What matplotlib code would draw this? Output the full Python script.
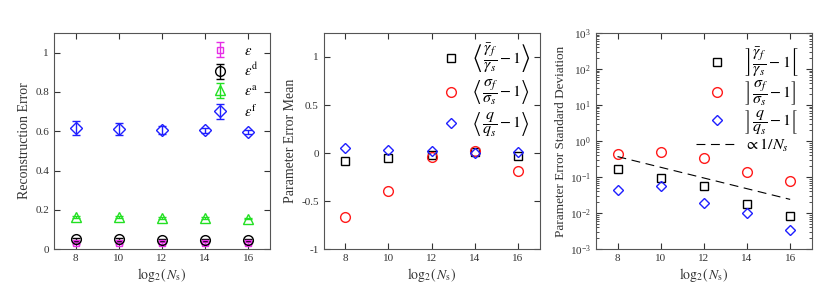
import numpy as np
import matplotlib
matplotlib.use('Agg')
import matplotlib.pyplot as plt
from matplotlib.ticker import FuncFormatter, LogLocator, NullFormatter

plt.rcParams['font.family'] = ['Liberation Serif', 'DejaVu Serif']
plt.rcParams['mathtext.fontset'] = 'stix'

# log2(Ns)
x = [8, 10, 12, 14, 16]

# panel 1: reconstruction error
eps = [0.030, 0.030, 0.030, 0.030, 0.030]
eps_err = [0.005, 0.005, 0.005, 0.005, 0.005]
eps_d = [0.049, 0.049, 0.048, 0.047, 0.047]
eps_d_err = [0.006, 0.006, 0.005, 0.005, 0.005]
eps_a = [0.163, 0.162, 0.160, 0.158, 0.155]
eps_a_err = [0.006, 0.005, 0.005, 0.004, 0.004]
eps_f = [0.617, 0.611, 0.607, 0.605, 0.595]
eps_f_err = [0.035, 0.030, 0.020, 0.012, 0.010]

# panel 2: parameter error mean
mean_gamma = [-0.087, -0.052, -0.020, 0.014, -0.030]
mean_sigma = [-0.667, -0.400, -0.042, 0.020, -0.190]
mean_q = [0.049, 0.028, 0.020, 0.000, 0.014]

# panel 3: parameter error std
std_gamma = [0.17, 0.094, 0.058, 0.018, 0.0085]
std_sigma = [0.44, 0.49, 0.34, 0.134, 0.079]
std_q = [0.044, 0.055, 0.0195, 0.0103, 0.0034]
ref_x = [8, 16]
ref_y = [0.37, 0.024]

xlabel = r'$\mathrm{log}_2(\,N_{\mathrm{s}})$'
tc = '#333333'

fig = plt.figure(figsize=(8.3, 2.89), dpi=100)
ax1 = fig.add_axes([0.065, 0.138, 0.260, 0.748])
ax2 = fig.add_axes([0.390, 0.138, 0.260, 0.748])
ax3 = fig.add_axes([0.718, 0.138, 0.260, 0.748])


def style(ax):
    ax.set_xlim(7, 17)
    ax.set_xticks([8, 10, 12, 14, 16])
    ax.tick_params(which='both', direction='in', top=True, right=True,
                   labelsize=8, colors=tc)
    ax.tick_params(which='major', length=4)
    ax.tick_params(which='minor', length=2)
    for s in ax.spines.values():
        s.set_color('#555555')
        s.set_linewidth(0.8)
    ax.set_xlabel(xlabel, fontsize=10, color=tc, labelpad=2)


fmt = FuncFormatter(lambda v, p: f'{v:g}')

# panel 1
style(ax1)
mag = '#e62ee6'
grn = '#22e022'
kw = dict(ls='none', capsize=3, mfc='none', mew=1, elinewidth=1)
h1 = ax1.errorbar(x, eps, yerr=eps_err, marker='s', ms=5, color=mag, **kw)
h2 = ax1.errorbar(x, eps_d, yerr=eps_d_err, marker='o', ms=7, color='k', **kw)
h3 = ax1.errorbar(x, eps_a, yerr=eps_a_err, marker='^', ms=7, color=grn, **kw)
h4 = ax1.errorbar(x, eps_f, yerr=eps_f_err, marker='D', ms=6, color='#1f1fff', **kw)
ax1.set_ylim(0, 1.1)
ax1.set_yticks([0, 0.2, 0.4, 0.6, 0.8, 1])
ax1.yaxis.set_major_formatter(fmt)
ax1.set_ylabel('Reconstruction Error', fontsize=10, color=tc, labelpad=3)
ax1.legend([h1, h2, h3, h4],
           [r'$\epsilon$', r'$\epsilon^{\mathrm{d}}$', r'$\epsilon^{\mathrm{a}}$',
            r'$\epsilon^{\mathrm{f}}$'],
           loc='upper right', frameon=False, fontsize=10.5, handlelength=1.2,
           handletextpad=1.0, labelspacing=0.3, borderaxespad=0.4)

# panel 2
style(ax2)
ax2.plot(x, mean_gamma, ls='none', marker='s', ms=5.5, mfc='none', mec='k', mew=1,
         label=r'$\left\langle\,\dfrac{\bar{\gamma}_f}{\gamma_s}-1\right\rangle$')
ax2.plot(x, mean_sigma, ls='none', marker='o', ms=7, mfc='none', mec='#ff1a1a', mew=1,
         label=r'$\left\langle\,\dfrac{\sigma_f}{\sigma_s}-1\right\rangle$')
ax2.plot(x, mean_q, ls='none', marker='D', ms=5.5, mfc='none', mec='#1f1fff', mew=1,
         label=r'$\left\langle\,\dfrac{q}{q_s}-1\right\rangle$')
ax2.set_ylim(-1, 1.25)
ax2.set_yticks([-1, -0.5, 0, 0.5, 1])
ax2.yaxis.set_major_formatter(fmt)
ax2.set_ylabel('Parameter Error Mean', fontsize=10, color=tc, labelpad=3)
ax2.legend(loc='upper right', frameon=False, fontsize=11.5, handlelength=0.8,
           handletextpad=0.9, labelspacing=0.2, borderaxespad=0.15)

# panel 3
style(ax3)
ax3.set_yscale('log')
ax3.plot(x, std_gamma, ls='none', marker='s', ms=5.5, mfc='none', mec='k', mew=1,
         label=r'$\left]\,\dfrac{\bar{\gamma}_f}{\gamma_s}-1\right[$')
ax3.plot(x, std_sigma, ls='none', marker='o', ms=7, mfc='none', mec='#ff1a1a', mew=1,
         label=r'$\left]\,\dfrac{\sigma_f}{\sigma_s}-1\right]$')
ax3.plot(x, std_q, ls='none', marker='D', ms=5.5, mfc='none', mec='#1f1fff', mew=1,
         label=r'$\left]\,\dfrac{q}{q_s}-1\right[$')
ax3.plot(ref_x, ref_y, ls=(0, (8, 5)), color='k', lw=0.8,
         label=r'$\propto 1/N_s$')
ax3.set_ylim(1e-3, 1e3)
ax3.yaxis.set_major_locator(LogLocator(base=10, numticks=10))
ax3.yaxis.set_minor_locator(LogLocator(base=10, subs=np.arange(2, 10), numticks=20))
ax3.yaxis.set_minor_formatter(NullFormatter())
ax3.set_ylabel('Parameter Error Standard Deviation', fontsize=9.5, color=tc, labelpad=2)
ax3.legend(loc='upper right', frameon=False, fontsize=11.5, handlelength=2.6,
           handletextpad=0.4, labelspacing=0.0, borderaxespad=0.4)

fig.savefig('out.png', dpi=100)
